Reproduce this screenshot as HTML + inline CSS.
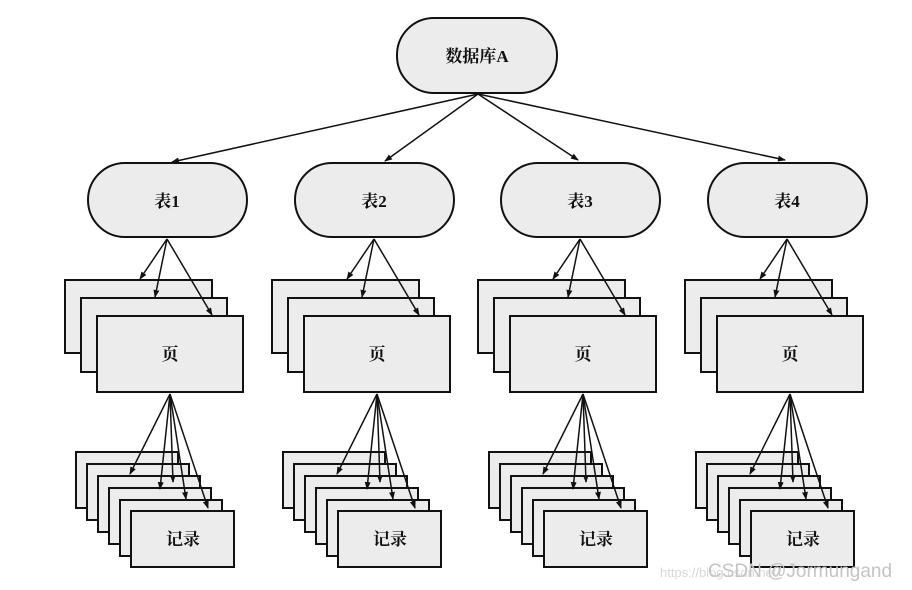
<!DOCTYPE html>
<html><head><meta charset="utf-8"><style>
html,body{margin:0;padding:0;background:#fff;}
svg{display:block;}
text{font-family:"Liberation Serif","Noto Serif CJK SC",serif;font-weight:bold;font-size:17px;fill:#111;}
</style></head><body>
<svg width="912" height="590" viewBox="0 0 912 590" xmlns="http://www.w3.org/2000/svg">
<defs>
<marker id="a" markerWidth="8" markerHeight="8" refX="7" refY="4" orient="auto" markerUnits="userSpaceOnUse">
<path d="M0,1 L8,4 L0,7 Z" fill="#111"/></marker>
<g id="col">
<rect x="88" y="163" width="159" height="74" rx="37" fill="#ececec" stroke="#111" stroke-width="2"/>
<rect x="65" y="280" width="147" height="73" fill="#ececec" stroke="#111" stroke-width="2"/>
<rect x="81" y="298" width="146" height="74" fill="#ececec" stroke="#111" stroke-width="2"/>
<rect x="97" y="316" width="146" height="76" fill="#ececec" stroke="#111" stroke-width="2"/>
<rect x="76" y="452" width="102" height="56" fill="#ececec" stroke="#111" stroke-width="2"/>
<rect x="87" y="464" width="102" height="56" fill="#ececec" stroke="#111" stroke-width="2"/>
<rect x="98" y="476" width="102" height="56" fill="#ececec" stroke="#111" stroke-width="2"/>
<rect x="109" y="488" width="102" height="56" fill="#ececec" stroke="#111" stroke-width="2"/>
<rect x="120" y="500" width="102" height="56" fill="#ececec" stroke="#111" stroke-width="2"/>
<rect x="131" y="511" width="103" height="56" fill="#ececec" stroke="#111" stroke-width="2"/>
<g stroke="#111" stroke-width="1.5" marker-end="url(#a)">
<line x1="167" y1="239" x2="140" y2="279"/>
<line x1="167" y1="239" x2="155" y2="297"/>
<line x1="167" y1="239" x2="212" y2="315"/>
<line x1="170" y1="394" x2="130" y2="474"/>
<line x1="170" y1="394" x2="160" y2="489"/>
<line x1="170" y1="394" x2="173" y2="482"/>
<line x1="170" y1="394" x2="186" y2="499"/>
<line x1="170" y1="394" x2="208" y2="508"/>
</g>
</g>
</defs>
<rect x="397" y="18" width="160" height="75" rx="37" fill="#ececec" stroke="#111" stroke-width="2"/>
<text x="477" y="62" text-anchor="middle">数据库A</text>
<g stroke="#111" stroke-width="1.5" marker-end="url(#a)">
<line x1="478" y1="94" x2="172" y2="162"/>
<line x1="478" y1="94" x2="385" y2="161"/>
<line x1="478" y1="94" x2="578" y2="160"/>
<line x1="478" y1="94" x2="785" y2="160"/>
</g>
<use href="#col"/>
<use href="#col" x="207"/>
<use href="#col" x="413"/>
<use href="#col" x="620"/>
<text x="167" y="207" text-anchor="middle">表1</text>
<text x="374" y="207" text-anchor="middle">表2</text>
<text x="580" y="207" text-anchor="middle">表3</text>
<text x="787" y="207" text-anchor="middle">表4</text>
<text x="170" y="360" text-anchor="middle">页</text>
<text x="377" y="360" text-anchor="middle">页</text>
<text x="583" y="360" text-anchor="middle">页</text>
<text x="790" y="360" text-anchor="middle">页</text>
<text x="183" y="545" text-anchor="middle">记录</text>
<text x="390" y="545" text-anchor="middle">记录</text>
<text x="596" y="545" text-anchor="middle">记录</text>
<text x="803" y="545" text-anchor="middle">记录</text>
<text x="660" y="577" style="font-family:'Liberation Sans',sans-serif;font-weight:normal;font-size:13px;fill:#d8d8d8">https://blog.csdn.net/</text>
<text x="708" y="577" style="font-family:'Liberation Sans',sans-serif;font-weight:normal;font-size:19px;fill:#c4c4c4">CSDN @Jormungand</text>
</svg>
</body></html>
